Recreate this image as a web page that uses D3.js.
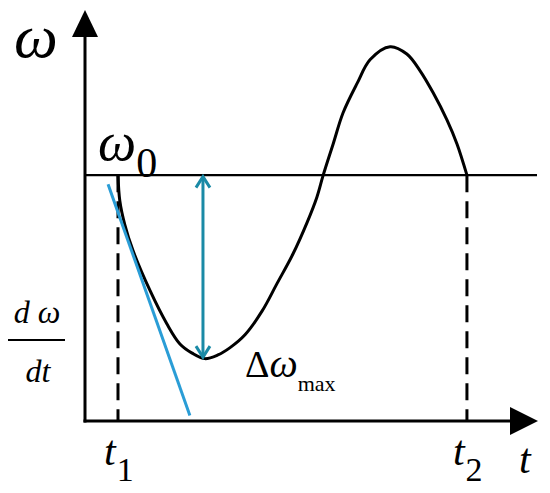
<!DOCTYPE html>
<html>
<head>
<meta charset="utf-8">
<script src="https://cdn.jsdelivr.net/npm/d3@7"></script>
<style>
  body { margin: 0; background: #fff; }
</style>
</head>
<body>
<svg id="chart" width="550" height="493"></svg>
<script>
// frequency deviation curve (t, omega - omega0), omega0 = 0
const curveT = [0.73, 0.77, 0.88, 1.06, 1.44, 1.81, 2.10, 2.37, 2.65, 2.94, 3.21, 3.54, 3.92, 4.25, 4.60, 4.91, 5.13,
    5.27, 5.49, 5.71, 6.02, 6.31, 6.75, 7.12, 7.41, 7.70, 8.01, 8.23, 8.45];
const curveW = [0, -0.14, -0.27, -0.41, -0.63, -0.81, -0.92, -0.97, -1.00, -0.98, -0.94, -0.87, -0.74, -0.59, -0.43, -0.26, -0.12,
    0, 0.17, 0.34, 0.50, 0.63, 0.70, 0.66, 0.57, 0.45, 0.30, 0.17, 0];

// tangent at t1 (d omega / dt)
const tangentT = [0.51, 2.32];
const tangentW = [-0.05, -1.31];

// max deviation marker
const deltaT = 2.61;
const deltaW = [0, -1.0];

const markT = [0.73, 8.45];
const markLabels = ['1', '2'];

const serif = 'Liberation Serif';

const svg = d3.select('#chart');

const x = d3.scaleLinear().domain([0, 10]).range([85, 537]);
const y = d3.scaleLinear().domain([-1.34, 0.9]).range([421, 10]);

const defs = svg.append('defs');
defs.append('marker')
    .attr('id', 'open')
    .attr('viewBox', '-12 -12 24 24')
    .attr('refX', 0)
    .attr('refY', 0)
    .attr('markerUnits', 'userSpaceOnUse')
    .attr('markerWidth', 24)
    .attr('markerHeight', 24)
    .attr('orient', 'auto-start-reverse')
    .append('path')
    .attr('d', 'M-11,-7 L0,0 L-11,7')
    .attr('fill', 'none')
    .attr('stroke', '#1a8aa6')
    .attr('stroke-width', 3);

// axes
const x0 = x(0), yb = y(-1.34);
svg.append('line')
    .attr('x1', x0).attr('y1', yb + 1.5)
    .attr('x2', x0).attr('y2', 34)
    .attr('stroke', '#000').attr('stroke-width', 3);
svg.append('path')
    .attr('d', `M${x0 - 13},37 L${x0},10 L${x0 + 13},37 Z`)
    .attr('fill', '#000');
svg.append('line')
    .attr('x1', x0 - 1.5).attr('y1', yb)
    .attr('x2', 512).attr('y2', yb)
    .attr('stroke', '#000').attr('stroke-width', 3);
svg.append('path')
    .attr('d', `M510,${yb - 14} L538,${yb} L510,${yb + 14} Z`)
    .attr('fill', '#000');

// omega0 level
svg.append('line')
    .attr('x1', x0).attr('y1', y(0))
    .attr('x2', x(10)).attr('y2', y(0))
    .attr('stroke', '#000').attr('stroke-width', 2.2);

// dashed t1, t2
svg.selectAll('line.mark')
    .data(markT)
    .join('line')
    .attr('class', 'mark')
    .attr('x1', d => x(d)).attr('y1', y(0))
    .attr('x2', d => x(d)).attr('y2', yb)
    .attr('stroke', '#000')
    .attr('stroke-width', 3)
    .attr('stroke-dasharray', '17,9');

// curve
const pts = curveT.map((t, i) => [t, curveW[i]]);
svg.append('path')
    .datum(pts)
    .attr('d', d3.line().x(d => x(d[0])).y(d => y(d[1])).curve(d3.curveCatmullRom.alpha(0.5)))
    .attr('fill', 'none')
    .attr('stroke', '#000')
    .attr('stroke-width', 3);

// tangent
svg.append('line')
    .attr('x1', x(tangentT[0])).attr('y1', y(tangentW[0]))
    .attr('x2', x(tangentT[1])).attr('y2', y(tangentW[1]))
    .attr('stroke', '#2a9dd6')
    .attr('stroke-width', 3);

// double arrow
svg.append('line')
    .attr('x1', x(deltaT)).attr('y1', y(deltaW[0]) + 1.5)
    .attr('x2', x(deltaT)).attr('y2', y(deltaW[1]) - 1.5)
    .attr('stroke', '#1a8aa6')
    .attr('stroke-width', 3)
    .attr('marker-start', 'url(#open)')
    .attr('marker-end', 'url(#open)');

// labels
const label = (px, py) => svg.append('text')
    .attr('x', px).attr('y', py)
    .attr('font-family', serif);

label(14, 57)
    .attr('font-size', 62).attr('font-style', 'italic')
    .text('ω');

const w0 = label(98, 160);
w0.append('tspan').attr('font-size', 54).attr('font-style', 'italic').text('ω');
w0.append('tspan').attr('font-size', 42).attr('dy', 17).attr('dx', 0).text('0');

label(37, 323)
    .attr('text-anchor', 'middle')
    .attr('font-size', 32).attr('font-style', 'italic')
    .text('d ω');
svg.append('line')
    .attr('x1', 8).attr('y1', 340).attr('x2', 65).attr('y2', 340)
    .attr('stroke', '#000').attr('stroke-width', 2);
label(38, 382)
    .attr('text-anchor', 'middle')
    .attr('font-size', 32).attr('font-style', 'italic')
    .text('dt');

const dw = label(245, 377);
dw.append('tspan').attr('font-size', 38).text('Δ');
dw.append('tspan').attr('font-size', 40).attr('font-style', 'italic').text('ω');
dw.append('tspan').attr('font-size', 22).attr('dy', 14).attr('dx', 0).text('max');

markT.forEach((d, i) => {
    const el = label(x(d) - 14, 465);
    el.append('tspan').attr('font-size', 42).attr('font-style', 'italic').text('t');
    el.append('tspan').attr('font-size', 34).attr('dy', 16).attr('dx', 1).text(markLabels[i]);
});

label(519, 473)
    .attr('font-size', 42).attr('font-style', 'italic')
    .text('t');
</script>
</body>
</html>
